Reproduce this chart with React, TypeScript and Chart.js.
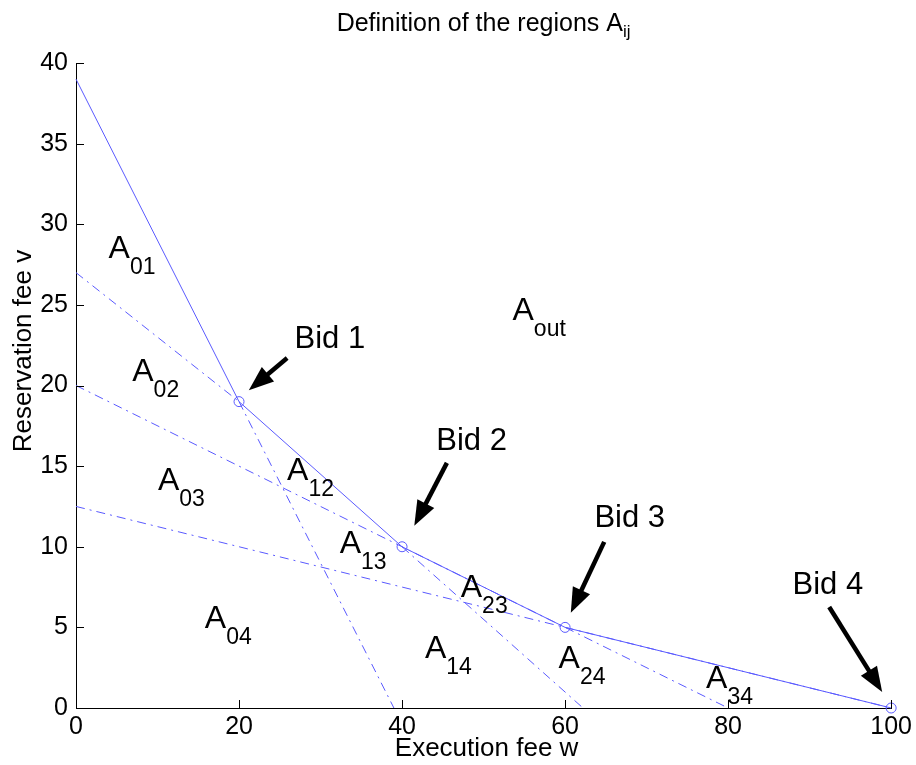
import React, { useEffect, useRef } from "react";
import { Chart, registerables } from "chart.js";

Chart.register(...registerables);

// ---- data ----
const envelopeW = [0, 20, 40, 60, 100];
const envelopeV = [39, 19, 10, 5, 0];

const boundary01W = [0, 20];
const boundary01V = [27, 19];
const boundaryBid1W = [20, 39];
const boundaryBid1V = [19, 0];
const boundaryBid12W = [40, 62.2];
const boundaryBid12V = [10, 0];
const boundaryBid23W = [0, 40, 60, 80];
const boundaryBid23V = [20, 10, 5, 0];
const boundaryBid34W = [0, 60, 100];
const boundaryBid34V = [12.5, 5, 0];

const xTicks = [0, 20, 40, 60, 80, 100];
const yTicks = [0, 5, 10, 15, 20, 25, 30, 35, 40];

const regionSubs = ["01", "02", "03", "04", "12", "13", "23", "14", "24", "34", "out"];
const regionW = [4.0, 6.9, 10.05, 15.8, 25.9, 32.35, 47.2, 42.8, 59.2, 77.3, 53.55];
const regionV = [27.9, 20.3, 13.5, 4.96, 14.14, 9.6, 6.88, 3.1, 2.48, 1.24, 24.06];

const bidNames = ["Bid 1", "Bid 2", "Bid 3", "Bid 4"];
const bidLabelW = [26.8, 44.2, 63.6, 87.9];
const bidLabelV = [22.3, 16.0, 11.2, 7.07];
const arrowTailW = [25.9, 45.5, 64.8, 92.4];
const arrowTailV = [21.7, 15.2, 10.3, 6.26];
const arrowTipW = [21.2, 41.5, 60.7, 98.9];
const arrowTipV = [19.7, 11.3, 5.9, 1.0];

const titleMain = "Definition of the regions A";
const titleSub = "ij";
const xTitle = "Execution fee w";
const yTitle = "Reservation fee v";

const FONT = "'Liberation Sans', Arial, sans-serif";
const BLUE = "rgb(90,90,255)";

const pts = (w: number[], v: number[]) => w.map((x, i) => ({ x, y: v[i] }));

const annotPlugin = {
  id: "annot",
  afterDraw(chart: any) {
    const { ctx, chartArea } = chart;
    const xs = chart.scales.x;
    const ys = chart.scales.y;
    ctx.save();
    // inward ticks
    ctx.strokeStyle = "#000";
    ctx.lineWidth = 1;
    xs.ticks.forEach((t: any) => {
      const px = Math.round(xs.getPixelForValue(t.value)) + 0.5;
      ctx.beginPath();
      ctx.moveTo(px, chartArea.bottom);
      ctx.lineTo(px, chartArea.bottom - 8);
      ctx.stroke();
    });
    ys.ticks.forEach((t: any) => {
      const py = Math.round(ys.getPixelForValue(t.value)) + 0.5;
      ctx.beginPath();
      ctx.moveTo(chartArea.left, py);
      ctx.lineTo(chartArea.left + 8, py);
      ctx.stroke();
    });

    ctx.fillStyle = "#000";
    ctx.textBaseline = "alphabetic";
    ctx.textAlign = "left";
    // region labels
    regionSubs.forEach((s, i) => {
      const px = xs.getPixelForValue(regionW[i]);
      const py = ys.getPixelForValue(regionV[i]);
      ctx.font = `32px ${FONT}`;
      ctx.fillText("A", px, py);
      const aw = ctx.measureText("A").width;
      ctx.font = `23px ${FONT}`;
      ctx.fillText(s, px + aw, py + 16);
    });

    // bid labels
    ctx.font = `31px ${FONT}`;
    bidNames.forEach((b, i) => {
      ctx.fillText(b, xs.getPixelForValue(bidLabelW[i]), ys.getPixelForValue(bidLabelV[i]));
    });

    // arrows
    bidNames.forEach((_, i) => {
      const x0 = xs.getPixelForValue(arrowTailW[i]);
      const y0 = ys.getPixelForValue(arrowTailV[i]);
      const x1 = xs.getPixelForValue(arrowTipW[i]);
      const y1 = ys.getPixelForValue(arrowTipV[i]);
      const dx = x1 - x0;
      const dy = y1 - y0;
      const len = Math.hypot(dx, dy);
      const ux = dx / len;
      const uy = dy / len;
      const headLen = 25;
      const headHalf = 9.5;
      const bx = x1 - ux * headLen;
      const by = y1 - uy * headLen;
      ctx.strokeStyle = "#000";
      ctx.lineWidth = 4.5;
      ctx.beginPath();
      ctx.moveTo(x0, y0);
      ctx.lineTo(bx + ux * 2, by + uy * 2);
      ctx.stroke();
      ctx.beginPath();
      ctx.moveTo(x1, y1);
      ctx.lineTo(bx - uy * headHalf, by + ux * headHalf);
      ctx.lineTo(bx + uy * headHalf, by - ux * headHalf);
      ctx.closePath();
      ctx.fill();
    });

    // title
    const cx = (chartArea.left + chartArea.right) / 2;
    ctx.font = `25px ${FONT}`;
    const mw = ctx.measureText(titleMain).width;
    ctx.font = `17px ${FONT}`;
    const sw = ctx.measureText(titleSub).width;
    const tx = cx - (mw + sw) / 2;
    ctx.font = `25px ${FONT}`;
    ctx.fillText(titleMain, tx, 31);
    ctx.font = `17px ${FONT}`;
    ctx.fillText(titleSub, tx + mw, 37);

    // axis titles
    ctx.font = `26px ${FONT}`;
    ctx.textAlign = "center";
    ctx.fillText(xTitle, cx + 3, 756);
    ctx.save();
    ctx.translate(31, 351);
    ctx.rotate(-Math.PI / 2);
    ctx.fillText(yTitle, 0, 0);
    ctx.restore();

    ctx.restore();
  },
};

export default function App() {
  const ref = useRef<HTMLCanvasElement | null>(null);
  useEffect(() => {
    document.body.style.margin = "0";
    const canvas = ref.current;
    if (!canvas) return;
    const dashed = (w: number[], v: number[]) => ({
      data: pts(w, v),
      showLine: true,
      borderColor: BLUE,
      borderWidth: 1,
      borderDash: [9, 5, 2, 5],
      pointRadius: 0,
      fill: false,
      clip: false as any,
    });
    const chart = new Chart(canvas, {
      type: "scatter",
      data: {
        datasets: [
          dashed(boundary01W, boundary01V),
          dashed(boundaryBid1W, boundaryBid1V),
          dashed(boundaryBid12W, boundaryBid12V),
          dashed(boundaryBid23W, boundaryBid23V),
          dashed(boundaryBid34W, boundaryBid34V),
          {
            data: pts(envelopeW, envelopeV),
            showLine: true,
            borderColor: BLUE,
            borderWidth: 1,
            pointRadius: (c: any) => (c.dataIndex === 0 ? 0 : 5),
            pointBorderColor: BLUE,
            pointBackgroundColor: "rgba(0,0,0,0)",
            pointBorderWidth: 1,
            fill: false,
            clip: false as any,
          } as any,
        ],
      },
      options: {
        responsive: false,
        animation: false,
        events: [],
        layout: { padding: { left: 0, top: 63, right: 24, bottom: 0 } },
        plugins: {
          legend: { display: false },
          title: { display: false },
          tooltip: { enabled: false },
        },
        scales: {
          x: {
            type: "linear",
            min: 0,
            max: 100,
            afterBuildTicks: (s: any) => {
              s.ticks = xTicks.map((v) => ({ value: v }));
            },
            afterFit: (s: any) => {
              s.height = 57;
            },
            grid: { display: false, drawTicks: false },
            border: { display: true, color: "#000", width: 1 },
            ticks: {
              color: "#000",
              font: { family: FONT, size: 25 },
              padding: 4,
              maxRotation: 0,
              autoSkip: false,
            },
          },
          y: {
            type: "linear",
            min: 0,
            max: 40,
            afterBuildTicks: (s: any) => {
              s.ticks = yTicks.map((v) => ({ value: v }));
            },
            afterFit: (s: any) => {
              s.width = 76;
            },
            grid: { display: false, drawTicks: false },
            border: { display: true, color: "#000", width: 1 },
            ticks: {
              color: "#000",
              font: { family: FONT, size: 25 },
              padding: 8,
              autoSkip: false,
            },
          },
        },
      },
      plugins: [annotPlugin],
    });
    return () => chart.destroy();
  }, []);
  return (
    <div style={{ width: 916, height: 765 }}>
      <canvas ref={ref} width={916} height={765} style={{ display: "block" }} />
    </div>
  );
}
